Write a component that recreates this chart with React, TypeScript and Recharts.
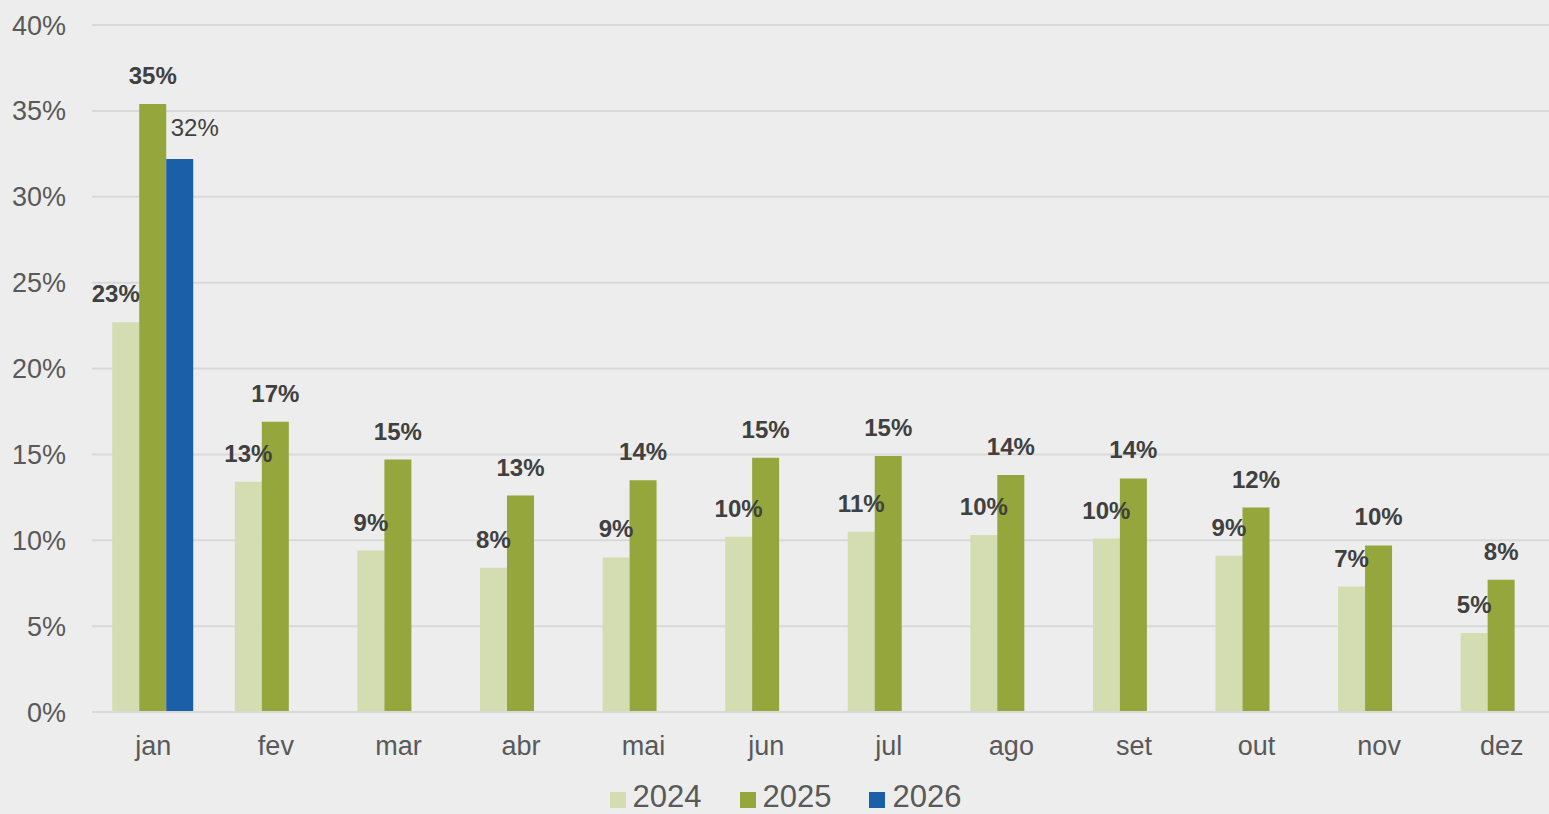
import { BarChart, Bar, XAxis, YAxis, CartesianGrid, Legend, LabelList } from "recharts";

const months = ["jan", "fev", "mar", "abr", "mai", "jun", "jul", "ago", "set", "out", "nov", "dez"];
const s2024 = [22.7, 13.4, 9.4, 8.4, 9.0, 10.2, 10.5, 10.3, 10.1, 9.1, 7.3, 4.6];
const s2025 = [35.4, 16.9, 14.7, 12.6, 13.5, 14.8, 14.9, 13.8, 13.6, 11.9, 9.7, 7.7];
const s2026 = [32.2, null, null, null, null, null, null, null, null, null, null, null];
const yTicks = [0, 5, 10, 15, 20, 25, 30, 35, 40];

const series = [
  { key: "y2024", name: "2024", color: "#d4ddb1" },
  { key: "y2025", name: "2025", color: "#94a63c" },
  { key: "y2026", name: "2026", color: "#1b5fa8" },
];

const chartData = months.map((m, i) => ({
  month: m,
  y2024: s2024[i],
  y2025: s2025[i],
  y2026: s2026[i],
}));

// excel nudged the january labels sideways so they don't collide
const janNudge: Record<string, number> = { y2024: -10, y2025: 0, y2026: 15 };

const FONT = "'Liberation Sans', Arial, sans-serif";

function makeLabel(key: string, bold: boolean) {
  return (props: any) => {
    const { x, y, width, value, index } = props;
    if (value == null) return null;
    const dx = index === 0 ? janNudge[key] : 0;
    const lift = key === "y2026" ? 23 : 20;
    return (
      <text
        x={x + width / 2 + dx}
        y={y - lift}
        textAnchor="middle"
        fill="#404040"
        fontSize={24}
        fontWeight={bold ? 700 : 400}
        fontFamily={FONT}
      >
        {Math.round(value)}%
      </text>
    );
  };
}

function LegendBox() {
  return (
    <div style={{ display: "flex", justifyContent: "center", height: 42, paddingTop: 7, boxSizing: "border-box", fontFamily: FONT }}>
      {series.map((s, i) => (
        <div key={s.key} style={{ display: "flex", alignItems: "center", marginRight: i < series.length - 1 ? 38 : 0, marginLeft: i === 0 ? 8 : 0 }}>
          <div style={{ width: 16, height: 16, background: s.color, marginRight: 7, marginTop: 6 }} />
          <span style={{ fontSize: 31, color: "#595959", lineHeight: "30px" }}>{s.name}</span>
        </div>
      ))}
    </div>
  );
}

export default function App() {
  return (
    <div style={{ position: "fixed", left: 0, top: 0, width: 1549, height: 814, overflow: "hidden", background: "#ededed" }}>
      <BarChart
        width={1565}
        height={814}
        data={chartData}
        margin={{ top: 25, right: 2, left: 0, bottom: 0 }}
        barCategoryGap="16.5%"
        barGap={0}
      >
        <CartesianGrid vertical={false} stroke="#d9d9d9" strokeWidth={2} />
        <XAxis
          dataKey="month"
          height={60}
          tickLine={false}
          tickMargin={18}
          axisLine={{ stroke: "#d9d9d9", strokeWidth: 2 }}
          tick={{ fill: "#595959", fontSize: 27, fontFamily: FONT }}
          interval={0}
        />
        <YAxis
          width={92}
          domain={[0, 40]}
          ticks={yTicks}
          tickFormatter={(v) => `${v}%`}
          axisLine={false}
          tickLine={false}
          tickMargin={20}
          tick={{ fill: "#595959", fontSize: 27, fontFamily: FONT }}
        />
        <Legend verticalAlign="bottom" content={() => <LegendBox />} />
        {series.map((s) => (
          <Bar key={s.key} dataKey={s.key} name={s.name} fill={s.color} isAnimationActive={false}>
            <LabelList dataKey={s.key} content={makeLabel(s.key, s.key !== "y2026")} />
          </Bar>
        ))}
      </BarChart>
    </div>
  );
}
